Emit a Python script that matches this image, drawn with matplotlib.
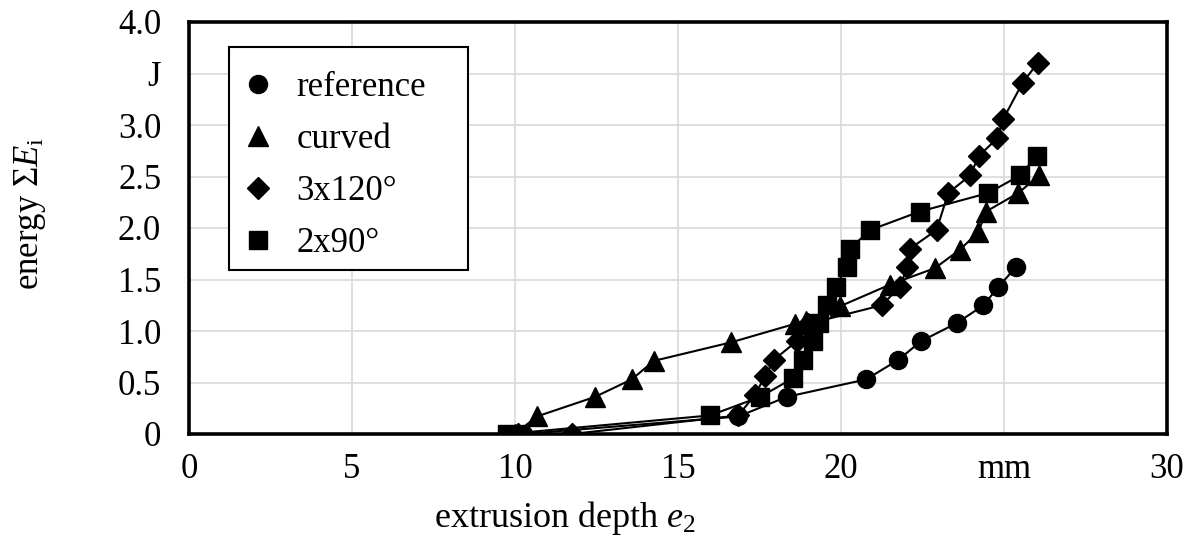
import numpy as np
import matplotlib.pyplot as plt
from matplotlib.lines import Line2D
from matplotlib.patches import Rectangle

plt.rcParams['font.family'] = ['Liberation Serif', 'DejaVu Serif']
plt.rcParams['mathtext.fontset'] = 'custom'
plt.rcParams['mathtext.rm'] = 'Liberation Serif'
plt.rcParams['mathtext.it'] = 'Liberation Serif:italic'

# extrusion depth e2 (mm) vs. cumulative energy (J)
ref_x = [10.25, 16.85, 18.33, 20.77, 21.76, 22.45, 23.57, 24.37, 24.83, 25.37]
ref_y = [0.0, 0.17, 0.36, 0.53, 0.72, 0.90, 1.08, 1.25, 1.43, 1.62]

curved_x = [10.0, 10.67, 12.45, 13.58, 14.26, 16.63, 18.59, 18.93, 19.97, 21.50,
            22.88, 23.65, 24.21, 24.45, 25.44, 26.08]
curved_y = [0.0, 0.17, 0.36, 0.53, 0.71, 0.89, 1.07, 1.10, 1.24, 1.45,
            1.61, 1.79, 1.96, 2.16, 2.34, 2.51]

d120_x = [10.1, 11.74, 16.85, 17.36, 17.67, 17.94, 18.64, 19.00, 21.25, 21.81,
          22.03, 22.12, 22.93, 23.29, 23.96, 24.23, 24.79, 24.98, 25.57, 26.03]
d120_y = [0.0, 0.0, 0.18, 0.38, 0.56, 0.72, 0.90, 1.07, 1.25, 1.43,
          1.62, 1.80, 1.98, 2.34, 2.51, 2.70, 2.87, 3.06, 3.41, 3.60]

d90_x = [9.75, 15.98, 17.52, 18.52, 18.84, 19.15, 19.31, 19.58, 19.84, 20.17,
         20.28, 20.89, 22.42, 24.52, 25.49, 26.00]
d90_y = [0.0, 0.18, 0.36, 0.54, 0.72, 0.90, 1.08, 1.25, 1.43, 1.62,
         1.80, 1.98, 2.16, 2.34, 2.51, 2.70]

series = [
    ('reference', ref_x, ref_y, 'o', 13),
    ('curved', curved_x, curved_y, '^', 14),
    ('3x120°', d120_x, d120_y, 'D', 11),
    ('2x90°', d90_x, d90_y, 's', 13),
]

xticks = [0, 5, 10, 15, 20, 25, 30]
xtick_labels = ['0', '5', '10', '15', '20', 'mm', '30']
yticks = [0, 0.5, 1.0, 1.5, 2.0, 2.5, 3.0, 3.5, 4.0]
ytick_labels = ['0', '0.5', '1.0', '1.5', '2.0', '2.5', '3.0', 'J', '4.0']

FS = 25
W, H = 1192, 549

fig = plt.figure(figsize=(W / 100, H / 100), dpi=100)
ax = fig.add_axes([189 / W, 1 - 434 / H, (1167 - 189) / W, (434 - 22) / H])

for name, x, y, m, ms in series:
    ax.plot(x, y, color='black', lw=1.5, marker=m, ms=ms,
            markerfacecolor='black', markeredgecolor='black', zorder=3)

ax.set_xlim(0, 30)
ax.set_ylim(0, 4.0)
ax.set_xticks(xticks)
ax.set_xticklabels(xtick_labels)
ax.set_yticks(yticks)
ax.set_yticklabels(ytick_labels)
ax.tick_params(length=0, labelsize=FS)
ax.tick_params(axis='y', pad=20)
ax.tick_params(axis='x', pad=14)
ax.grid(True, color='#d9d9d9', lw=1.2, zorder=0)
ax.set_axisbelow(True)
for sp in ax.spines.values():
    sp.set_linewidth(2.6)
    sp.set_color('black')

fig.text(30 / W, 1 - 214 / H, r'energy $\mathit{\Sigma E}_{\mathrm{i}}$',
         rotation=90, ha='center', va='center', fontsize=FS)
fig.text(565 / W, 1 - 518 / H, r'extrusion depth $\mathit{e}_{\mathit{2}}$',
         ha='center', va='center', fontsize=26)

# legend frame drawn as its own box, legend entries placed inside it
ax.add_patch(Rectangle((229 / W, 1 - 270 / H), (468 - 229) / W, (270 - 47) / H,
                       transform=fig.transFigure, facecolor='white', edgecolor='black',
                       lw=1.5, zorder=4, clip_on=False))
handles = [Line2D([], [], ls='none', marker=m, ms=ms, color='black')
           for name, x, y, m, ms in series]
leg = ax.legend(handles, [s[0] for s in series], loc='upper left',
                bbox_to_anchor=(241 / W, 1 - 71 / H), bbox_transform=fig.transFigure,
                fontsize=FS, frameon=False, borderaxespad=0, borderpad=0,
                handlelength=1.0, handletextpad=0.6, labelspacing=0.55)
leg.set_zorder(5)

fig.savefig('out.png', dpi=100)
